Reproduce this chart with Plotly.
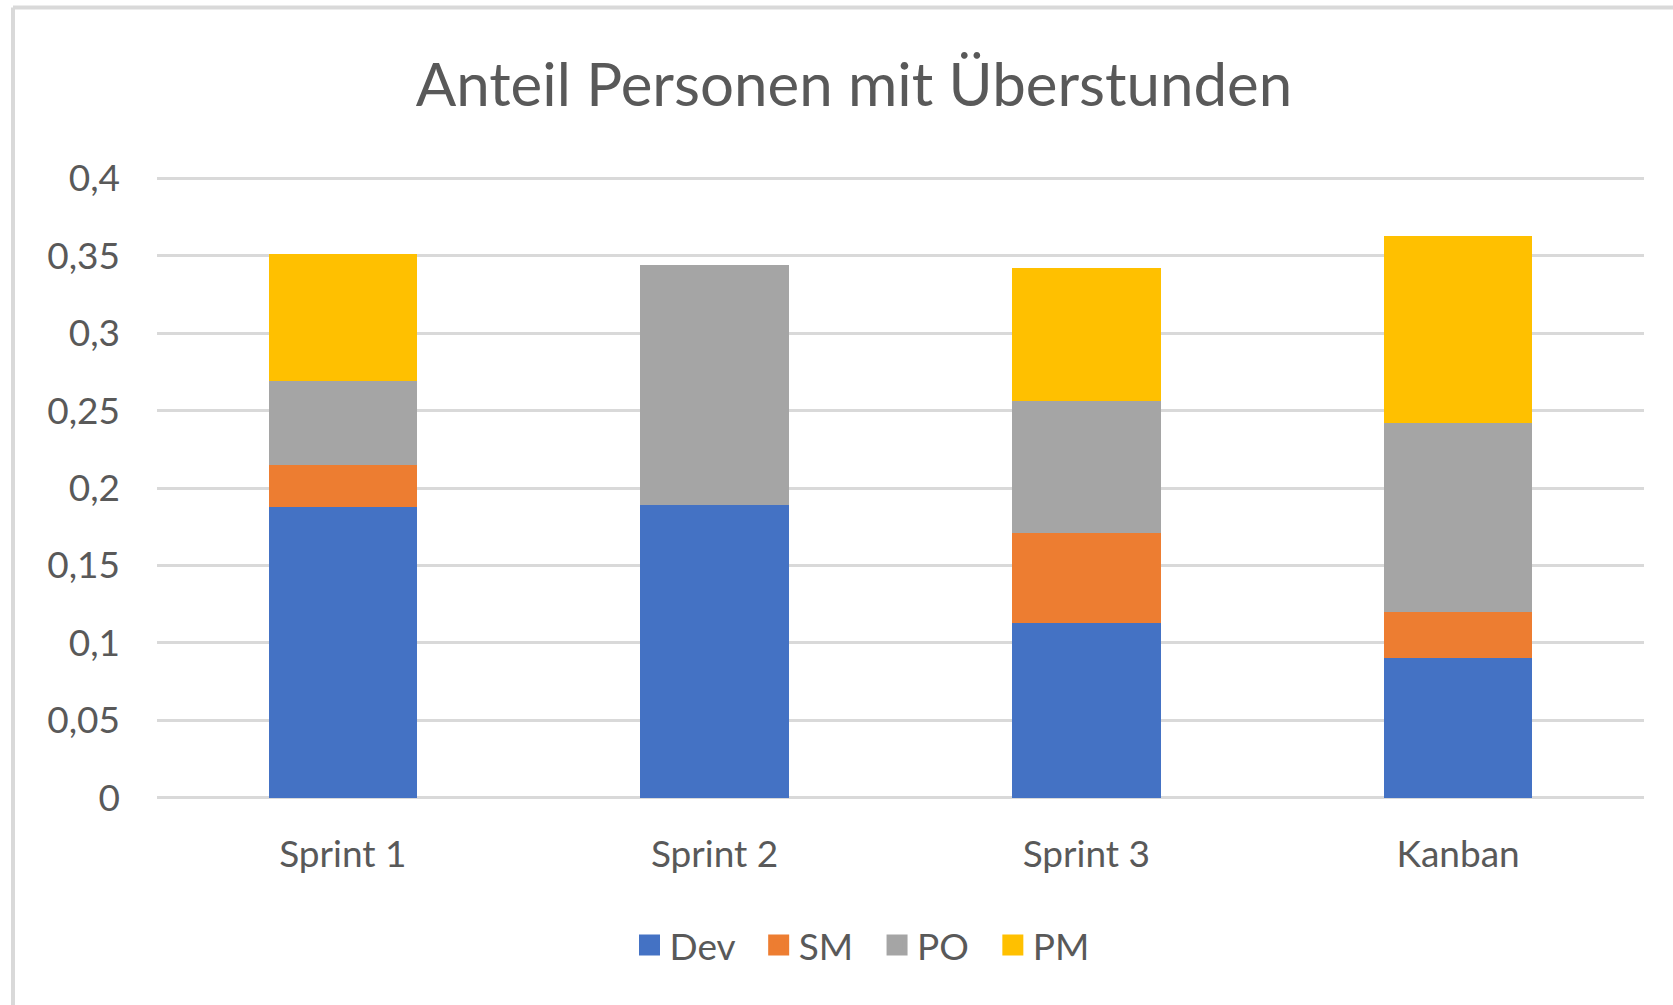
import plotly.graph_objects as go

categories = ["Sprint 1", "Sprint 2", "Sprint 3", "Kanban"]
series_names = ["Dev", "SM", "PO", "PM"]
dev = [0.188, 0.189, 0.113, 0.090]
sm = [0.027, 0.0, 0.058, 0.030]
po = [0.054, 0.155, 0.085, 0.122]
pm = [0.082, 0.0, 0.086, 0.121]
y_ticks = [0, 0.05, 0.1, 0.15, 0.2, 0.25, 0.3, 0.35, 0.4]
y_tick_labels = ["0", "0,05", "0,1", "0,15", "0,2", "0,25", "0,3", "0,35", "0,4"]
title_text = "Anteil Personen mit Überstunden"

colors = ["#4472C4", "#ED7D31", "#A5A5A5", "#FFC000"]
values = [dev, sm, po, pm]

W, H = 1673, 1005
y_top_px, y_zero_px = 178, 798
unit = (y_zero_px - y_top_px) / 0.4
pad = 0.0015
L, R = 157, 29
T = y_top_px - pad * unit
B = H - y_zero_px - pad * unit
pw = W - L - R
ph = H - T - B

def px_x(p):
    return (p - L) / pw

def px_y(p):
    return (H - B - p) / ph

FONT = "Lato"
TXT = "#595959"
NB = "\u00a0"

fig = go.Figure()
for i, (name, vals, col) in enumerate(zip(series_names, values, colors)):
    fig.add_trace(go.Bar(
        x=categories, y=vals, name=name, legendgroup=name,
        marker=dict(color=col, line=dict(width=0)),
        showlegend=False,
    ))
    label = name + (NB * 2 if i < len(series_names) - 1 else "")
    fig.add_trace(go.Scatter(
        x=[None], y=[None], mode="markers", name=label, legendgroup=name,
        marker=dict(symbol="square", size=16, color=col, line=dict(color=col, width=5)),
        showlegend=True,
    ))

fig.update_layout(
    width=W, height=H,
    margin=dict(l=L, r=R, t=T, b=B, autoexpand=False),
    barmode="stack",
    bargap=0.6,
    paper_bgcolor="white",
    plot_bgcolor="white",
    font=dict(family=FONT, color=TXT, size=37),
    title=dict(
        text=title_text,
        x=854 / W, xref="container", xanchor="center",
        y=1 - 85 / H, yref="container", yanchor="middle",
        font=dict(family=FONT, size=60, color=TXT),
    ),
    xaxis=dict(
        showline=False, showgrid=False, zeroline=False,
        ticks="", ticklabelstandoff=29,
        tickfont=dict(family=FONT, size=37, color=TXT),
    ),
    yaxis=dict(
        range=[-pad, 0.4 + pad],
        tickvals=y_ticks, ticktext=y_tick_labels,
        showgrid=True, gridcolor="#D9D9D9", gridwidth=2.5,
        zeroline=False, showline=False, ticks="",
        ticklabelstandoff=36,
        tickfont=dict(family=FONT, size=37, color=TXT),
    ),
    legend=dict(
        orientation="h",
        x=px_x(862), xanchor="center",
        y=px_y(946), yanchor="middle",
        font=dict(family=FONT, size=37, color=TXT),
        itemsizing="trace",
        bgcolor="rgba(0,0,0,0)",
        traceorder="normal",
    ),
    shapes=[
        dict(type="line", xref="paper", yref="paper",
             x0=px_x(13), x1=px_x(13), y0=px_y(7), y1=px_y(H + 20),
             line=dict(color="#D9D9D9", width=4), layer="below"),
        dict(type="line", xref="paper", yref="paper",
             x0=px_x(13), x1=px_x(W + 20), y0=px_y(7), y1=px_y(7),
             line=dict(color="#D9D9D9", width=4), layer="below"),
    ],
)

fig.write_html(
    "out.html",
    config={"displayModeBar": False},
    post_script="document.body.style.margin='0';document.body.style.overflow='hidden';",
)
